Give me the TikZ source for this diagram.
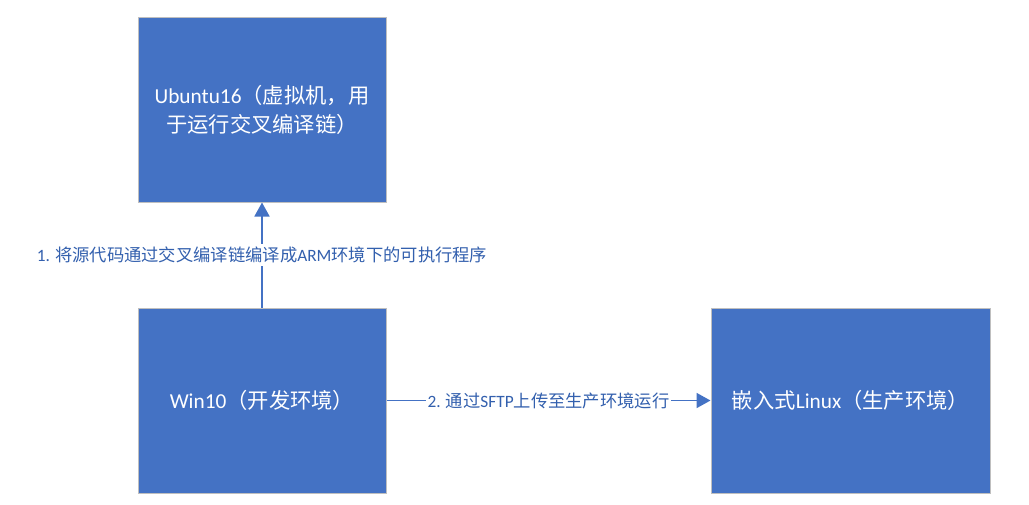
\documentclass[tikz,border=0pt]{standalone}
\usepackage{fontspec}
\setmainfont{Carlito}
\newfontfamily\cjk{Noto Sans CJK SC}
\usetikzlibrary{arrows.meta}
\definecolor{boxblue}{HTML}{4472C4}
\definecolor{boxedge}{HTML}{BFBFBF}
\definecolor{labelblue}{HTML}{3360AE}
\begin{document}
\begin{tikzpicture}[x=1pt,y=-1pt,
  box/.style={draw=boxedge,line width=1pt,fill=boxblue,text=white,
    font=\fontsize{21.3}{29}\selectfont,align=center,inner sep=0pt},
  conn/.style={draw=boxblue,line width=1.8pt,-{Triangle[length=14pt,width=15pt]}},
  lbl/.style={fill=white,text=labelblue,font=\fontsize{17.3}{20}\selectfont,
    inner xsep=1.5pt,inner ysep=3pt}]
\useasboundingbox[fill=white] (0,0) rectangle (1029,504);
\node[box,minimum width=248pt,minimum height=185pt] (ub) at (262,109.5)
  {Ubuntu16{\cjk （虚拟机，用}\\{\cjk 于运行交叉编译链）}};
\node[box,minimum width=248pt,minimum height=185pt] (win) at (262,400.5)
  {Win10{\cjk （开发环境）}};
\node[box,minimum width=279pt,minimum height=185pt] (emb) at (850.5,400.5)
  {{\cjk 嵌入式}Linux{\cjk （生产环境）}};
\draw[conn] (win) -- node[lbl] (l1)
  {1. {\cjk 将源代码通过交叉编译链编译成}ARM{\cjk 环境下的可执行程序}} (ub);
\draw[conn] (win) -- node[lbl] (l2)
  {2. {\cjk 通过}SFTP{\cjk 上传至生产环境运行}} (emb);
\end{tikzpicture}
\end{document}
